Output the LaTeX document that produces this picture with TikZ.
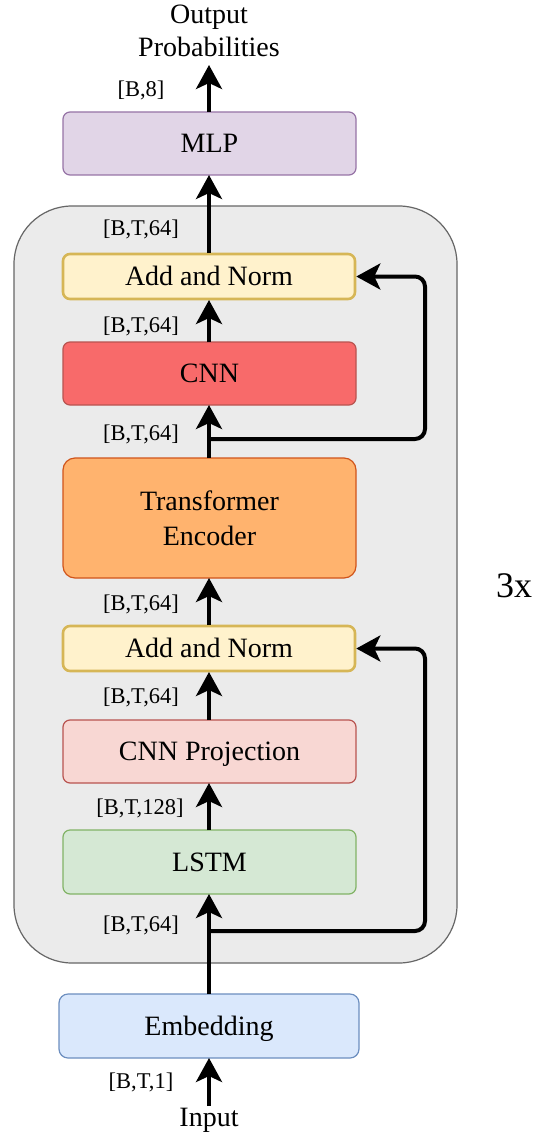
\documentclass[tikz,border=0pt]{standalone}
\usepackage{fontspec}
\setmainfont{Liberation Serif}
\usetikzlibrary{arrows.meta}
\definecolor{contfill}{HTML}{EBEBEB}
\definecolor{contdraw}{HTML}{666666}
\definecolor{mlpfill}{HTML}{E1D5E7}
\definecolor{mlpdraw}{HTML}{9673A6}
\definecolor{anfill}{HTML}{FFF2CC}
\definecolor{andraw}{HTML}{D6B656}
\definecolor{cnnfill}{HTML}{F86A6A}
\definecolor{cnndraw}{HTML}{B85450}
\definecolor{trfill}{HTML}{FFB36E}
\definecolor{trdraw}{HTML}{D0541A}
\definecolor{cpfill}{HTML}{F8D7D3}
\definecolor{cpdraw}{HTML}{B85450}
\definecolor{lsfill}{HTML}{D5E8D4}
\definecolor{lsdraw}{HTML}{82B366}
\definecolor{emfill}{HTML}{DAE8FC}
\definecolor{emdraw}{HTML}{6C8EBF}
\tikzset{
  blk/.style={rounded corners=7pt, line width=1.2pt, minimum width=293pt, minimum height=63pt, inner sep=0pt, align=center, font=\fontsize{28}{35}\selectfont},
  oneline/.style={text height=18.5pt, text depth=0pt},
  anblk/.style={blk, oneline, draw=andraw, fill=anfill, line width=2.6pt, minimum width=292pt, minimum height=45pt},
  dimlbl/.style={font=\fontsize{22.5}{26}\selectfont, inner sep=0pt},
  arr/.style={line width=4pt, -{Stealth[length=24pt, width=26pt, inset=6pt]}},
  skip/.style={line width=4pt, rounded corners=10pt, -{Stealth[length=24pt, width=26pt, inset=6pt]}}
}
\begin{document}
\begin{tikzpicture}[x=1pt, y=-1pt]
\useasboundingbox (0,0) rectangle (540,1134);
% container
\node[draw=contdraw, fill=contfill, line width=1.2pt, rounded corners=58pt, minimum width=443pt, minimum height=757pt, inner sep=0pt] (cont) at (235.5,584.5) {};
\node[font=\fontsize{36}{40}\selectfont, inner sep=0pt] (rep) at (514,586) {3x};
% blocks
\node[blk, oneline, draw=mlpdraw, fill=mlpfill] (mlp) at (209.5,143.5) {MLP};
\node[anblk] (an1) at (209,276.5) {Add and Norm};
\node[blk, oneline, draw=cnndraw, fill=cnnfill] (cnn) at (209.5,373.5) {CNN};
\node[blk, draw=trdraw, fill=trfill, minimum height=120pt, rounded corners=12pt] (tr) at (209.5,518) {Transformer\\Encoder};
\node[anblk] (an2) at (209,648.5) {Add and Norm};
\node[blk, oneline, draw=cpdraw, fill=cpfill] (cp) at (209.5,751.5) {CNN Projection};
\node[blk, oneline, draw=lsdraw, fill=lsfill, minimum height=64pt] (ls) at (209.5,862) {LSTM};
\node[blk, oneline, draw=emdraw, fill=emfill, minimum width=300pt, minimum height=64pt, rounded corners=9pt] (em) at (209,1026) {Embedding};
% texts
\node[align=center, font=\fontsize{28}{33}\selectfont, inner sep=0pt, anchor=north] (out) at (209,5) {Output\\Probabilities};
\node[font=\fontsize{28}{33}\selectfont, inner sep=0pt] (inp) at (209,1120) {Input};
\coordinate (outtip) at (209,65);
\coordinate (inbot) at (209,1106);
% dimension labels
\node[dimlbl] (d0) at (141,90) {[B,8]};
\node[dimlbl] (d1) at (141,229) {[B,T,64]};
\node[dimlbl] (d2) at (141,326) {[B,T,64]};
\node[dimlbl] (d3) at (141,434) {[B,T,64]};
\node[dimlbl] (d4) at (141,604) {[B,T,64]};
\node[dimlbl] (d5) at (141,697) {[B,T,64]};
\node[dimlbl] (d6) at (140,808) {[B,T,128]};
\node[dimlbl] (d7) at (141,925) {[B,T,64]};
\node[dimlbl] (d8) at (141,1082) {[B,T,1]};
% arrows
\draw[arr] (inbot) -- (209,1058);
\draw[arr] (209,994) -- (209,894);
\draw[arr] (209,830) -- (209,783);
\draw[arr] (209,720) -- (209,672);
\draw[arr] (209,625) -- (209,578);
\draw[arr] (209,458) -- (209,405);
\draw[arr] (209,342) -- (209,300);
\draw[arr] (209,253) -- (209,175);
\draw[arr] (209,112) -- (outtip);
% skip connections
\coordinate (b1) at (209,931);
\coordinate (b2) at (209,439);
\draw[skip] (b1) -- (425,931) -- (425,648.5) -- (an2.east);
\draw[skip] (b2) -- (425,439) -- (425,276.5) -- (an1.east);
\end{tikzpicture}
\end{document}
